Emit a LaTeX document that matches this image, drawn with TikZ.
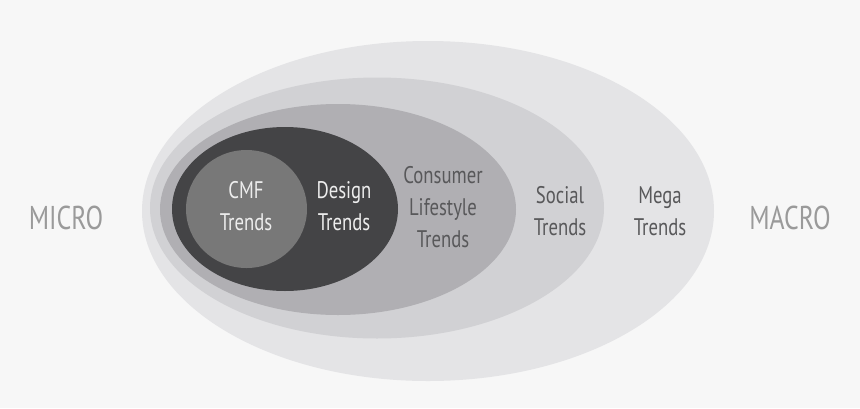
\documentclass[tikz,border=0pt]{standalone}
\usepackage{fontspec}
\setmainfont[FakeStretch=0.78]{PT Sans}
\usetikzlibrary{shapes.geometric,positioning}
\definecolor{bgcol}{HTML}{F7F7F7}
\definecolor{megacol}{HTML}{E4E4E6}
\definecolor{socialcol}{HTML}{D1D1D4}
\definecolor{consumercol}{HTML}{B0AFB3}
\definecolor{designcol}{HTML}{444446}
\definecolor{cmfcol}{HTML}{787878}
\definecolor{sidecol}{HTML}{9A9A9A}
\definecolor{darktext}{HTML}{58585A}
\definecolor{lighttext}{HTML}{EDEDED}

\begin{document}
\begin{tikzpicture}[x=1pt, y=-1pt,
    ring/.style={ellipse, inner sep=0pt, draw=none},
    trend/.style={align=center, inner sep=0pt, font=\fontsize{24}{32}\selectfont},
    side/.style={inner sep=0pt, text=sidecol, font=\fontsize{33}{40}\selectfont}]

    \fill[bgcol] (0,0) rectangle (860,408);
    \useasboundingbox (0,0) rectangle (860,408);

    % nested rings, outermost first
    \foreach \n/\x/\y/\w/\h/\c in {mega/428/211/572/340/megacol,
                                   social/377/208/454/261/socialcol,
                                   consumer/338/209.5/356/211/consumercol,
                                   design/285/209/226/164/designcol,
                                   cmf/246.5/209/121/118/cmfcol}{
        \node[ring, fill=\c, minimum width=\w pt, minimum height=\h pt] (\n) at (\x,\y) {};
    }

    \node[trend, text=lighttext] (cmftxt) at (246,206) {CMF\\Trends};
    \node[trend, text=lighttext] (designtxt) at (344,206) {Design\\Trends};
    \node[trend, text=darktext] (consumertxt) at (443,207) {Consumer\\Lifestyle\\Trends};
    \node[trend, text=darktext] (socialtxt) at (560,211.5) {Social\\Trends};
    \node[trend, text=darktext] (megatxt) at (660,211.5) {Mega\\Trends};

    \node[side] (micro) at (66,217.5) {MICRO};
    \node[side] (macro) at (790,218) {MACRO};

\end{tikzpicture}
\end{document}
